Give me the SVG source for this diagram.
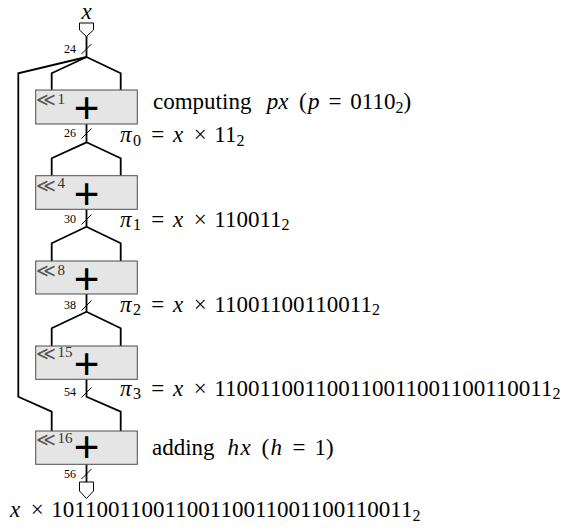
<svg xmlns="http://www.w3.org/2000/svg" width="582" height="531" viewBox="0 0 582 531">
<style>
.w{fill:none;stroke:#000;stroke-width:1.8;stroke-linejoin:miter}
.sl{fill:none;stroke:#000;stroke-width:1}
.box{fill:#e5e5e5;stroke:#4d4d4d;stroke-width:1}
.port{fill:#fff;stroke:#000;stroke-width:1}
.plus{font-family:"Liberation Sans",Arial,sans-serif;font-size:44px;text-anchor:middle;fill:#000}
.sh{font-family:"DejaVu Sans",sans-serif;font-size:19px;fill:#555}
.shn{font-family:"Liberation Serif","Times New Roman",serif;font-size:15px;fill:#333}
.bw{font-family:"Liberation Serif","Times New Roman",serif;font-size:12px;text-anchor:end;fill:#000}
.t{font-family:"Liberation Serif","Times New Roman",serif;font-size:23px;fill:#000}
.i{font-style:italic}
.s{font-size:16px}
</style>
<g id="connectors">
  <path class="w" d="M86.5,36 V57"/>
  <path class="w" d="M86.5,57 L18.3,73.3 V396.7 L51.7,411.7 V431"/>
  <path class="w" d="M86.5,57 L51.7,73.3 V90 M86.5,57 L120.7,73.3 V90"/>
  <path class="w" d="M86.5,124 V142.3 L51.7,158.3 V175.7 M86.5,142.3 L120.7,158.3 V175.7"/>
  <path class="w" d="M86.5,209.3 V226.7 L51.7,243.3 V261 M86.5,226.7 L120.7,243.3 V261"/>
  <path class="w" d="M86.5,294 V311.7 L51.7,328.3 V346 M86.5,311.7 L120.7,328.3 V346"/>
  <path class="w" d="M86.5,379.3 V396.7 L120.7,411.7 V431"/>
  <path class="w" d="M86.5,464.3 V482"/>
  <path class="sl" d="M81.5,54 L91.5,44"/>
  <path class="sl" d="M81.5,138.5 L91.5,128.5"/>
  <path class="sl" d="M81.5,224.5 L91.5,214.5"/>
  <path class="sl" d="M81.5,310.5 L91.5,300.5"/>
  <path class="sl" d="M81.5,397.5 L91.5,387.5"/>
  <path class="sl" d="M81.5,479 L91.5,469"/>
  <text class="bw" x="76" y="53">24</text>
  <text class="bw" x="76" y="137">26</text>
  <text class="bw" x="76" y="223">30</text>
  <text class="bw" x="76" y="309">38</text>
  <text class="bw" x="76" y="396">54</text>
  <text class="bw" x="76" y="478">56</text>
</g>
<g id="input">
  <text class="t i" x="86.5" y="19" text-anchor="middle" font-size="19">x</text>
  <polygon class="port" points="79.5,23 93.5,23 93.5,30 86.5,36.5 79.5,30"/>
</g>
<g id="add1">
  <rect class="box" x="35.7" y="90" width="101.6" height="34"/>
  <text class="sh" x="36" y="106">≪</text><text class="shn" x="57.5" y="104">1</text>
  <text class="plus" x="86.5" y="122.5">+</text>
</g>
<g id="add2">
  <rect class="box" x="35.7" y="175.7" width="101.6" height="33.6"/>
  <text class="sh" x="36" y="192">≪</text><text class="shn" x="57.5" y="188">4</text>
  <text class="plus" x="86.5" y="209">+</text>
</g>
<g id="add3">
  <rect class="box" x="35.7" y="261" width="101.6" height="33"/>
  <text class="sh" x="36" y="277">≪</text><text class="shn" x="57.5" y="275">8</text>
  <text class="plus" x="86.5" y="293.5">+</text>
</g>
<g id="add4">
  <rect class="box" x="35.7" y="346" width="101.6" height="33.3"/>
  <text class="sh" x="36" y="360">≪</text><text class="shn" x="57.5" y="357">15</text>
  <text class="plus" x="86.5" y="378.5">+</text>
</g>
<g id="add5">
  <rect class="box" x="35.7" y="431" width="101.6" height="33.3"/>
  <text class="sh" x="36" y="446">≪</text><text class="shn" x="57.5" y="443">16</text>
  <text class="plus" x="86.5" y="462">+</text>
</g>
<g id="output">
  <polygon class="port" points="79.5,482 93.5,482 93.5,491 86.5,498.5 79.5,491"/>
  <text class="t" y="517"><tspan class="i" x="10">x</tspan><tspan x="30.7">×</tspan><tspan x="51.3">10110011001100110011001100110011</tspan><tspan class="s" dy="3.5">2</tspan></text>
</g>
<g id="labels">
  <text class="t" y="109"><tspan x="153">computing</tspan><tspan class="i" x="266.7">p</tspan><tspan class="i" x="278.3">x</tspan><tspan x="299.1">(</tspan><tspan class="i" x="308">p</tspan><tspan x="328.4">=</tspan><tspan x="350.3">0110</tspan><tspan class="s" dy="3.5">2</tspan><tspan dy="-3.5">)</tspan></text>
  <text class="t" y="142.3"><tspan class="i" x="120">π</tspan><tspan class="s" x="133.1" dy="3.5">0</tspan><tspan x="151.2" dy="-3.5">=</tspan><tspan class="i" x="173">x</tspan><tspan x="193.7">×</tspan><tspan x="214.3">11</tspan><tspan class="s" dy="3.5">2</tspan></text>
  <text class="t" y="226.5"><tspan class="i" x="120">π</tspan><tspan class="s" x="133.1" dy="3.5">1</tspan><tspan x="151.2" dy="-3.5">=</tspan><tspan class="i" x="173">x</tspan><tspan x="193.7">×</tspan><tspan x="214.3">110011</tspan><tspan class="s" dy="3.5">2</tspan></text>
  <text class="t" y="311.5"><tspan class="i" x="120">π</tspan><tspan class="s" x="133.1" dy="3.5">2</tspan><tspan x="151.2" dy="-3.5">=</tspan><tspan class="i" x="173">x</tspan><tspan x="193.7">×</tspan><tspan x="214.3">11001100110011</tspan><tspan class="s" dy="3.5">2</tspan></text>
  <text class="t" y="395.5"><tspan class="i" x="120">π</tspan><tspan class="s" x="133.1" dy="3.5">3</tspan><tspan x="151.2" dy="-3.5">=</tspan><tspan class="i" x="173">x</tspan><tspan x="193.7">×</tspan><tspan x="214.3">110011001100110011001100110011</tspan><tspan class="s" dy="3.5">2</tspan></text>
  <text class="t" y="455"><tspan x="152">adding</tspan><tspan class="i" x="227.4">h</tspan><tspan class="i" x="240.6">x</tspan><tspan x="261.5">(</tspan><tspan class="i" x="270.4">h</tspan><tspan x="292.5">=</tspan><tspan x="314.4">1</tspan><tspan x="325.9">)</tspan></text>
</g>
</svg>
